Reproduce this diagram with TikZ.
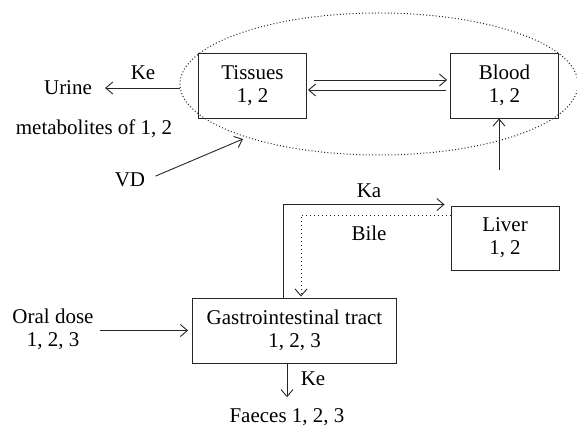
\documentclass[tikz,border=0pt]{standalone}
\usepackage{fontspec}
\setmainfont{Liberation Serif}
\usetikzlibrary{shapes.geometric,arrows.meta,calc}
\begin{document}
\begin{tikzpicture}[x=1pt,y=-1pt,
  box/.style={draw=black!85,line width=0.9pt,minimum width=108pt,minimum height=65pt,align=center,font=\fontsize{21}{23}\selectfont,inner sep=0pt},
  lbl/.style={font=\fontsize{21}{23}\selectfont,align=center,inner sep=1pt},
  arr/.style={draw=black!85,line width=0.9pt,-{Straight Barb[length=7pt,width=12pt,line width=0.9pt]}},
  bileline/.style={draw=black!85,line width=1pt,dash pattern=on 1pt off 3pt}]
\useasboundingbox (0,0) rectangle (577,430);
% compartment ellipse
\node[draw=black!85,ellipse,line width=1pt,dash pattern=on 1pt off 2.2pt,minimum width=398pt,minimum height=142pt,inner sep=0pt] (comp) at (379,84) {};
% boxes
\node[box] (tis) at (252.5,85.5) {Tissues\\1, 2};
\node[box] (blo) at (504.5,85.5) {Blood\\1, 2};
\node[box,minimum height=64pt] (liv) at (505,238) {Liver\\1, 2};
\node[box,minimum width=204pt] (git) at (294.5,330.5) {Gastrointestinal tract\\1, 2, 3};
% labels
\node[lbl] (uri) at (68,88) {Urine};
\node[lbl] (ke1) at (143,73) {Ke};
\node[lbl] (met) at (94,129) {metabolites of 1, 2};
\node[lbl] (vd) at (130,180) {VD};
\node[lbl] (ka) at (369,191) {Ka};
\node[lbl] (bil) at (369,233) {Bile};
\node[lbl] (ora) at (53,329) {Oral dose\\1, 2, 3};
\node[lbl] (ke2) at (313,379) {Ke};
\node[lbl] (fae) at (287,417) {Faeces 1, 2, 3};
% free ends
\coordinate (vdend) at (243,139);
\coordinate (bst) at (499,170);
% connectors
\draw[arr] ($(tis.east)+(7,-5.5)$) -- ($(blo.west)+(-3,-5.5)$);
\draw[arr] ($(blo.west)+(-4,4.5)$) -- ($(tis.east)+(1,4.5)$);
\draw[arr,shorten >=12pt] (uri.east -| comp.west) -- (uri.east);
\draw[arr,shorten <=10pt] (vd.east) -- (vdend);
\draw[arr] (bst) -- (bst |- blo.south);
\draw[arr] ($(git.north)+(-11.5,0)$) |- ($(liv.north west)+(-6,-1)$);
\draw[bileline,-{Straight Barb[length=7pt,width=12pt,line width=0.9pt]}] ($(liv.west)+(0,-23)$) -| ($(git.north)+(6.5,-1)$);
\draw[arr] ($(ora.east)+(5,1.5)$) -- ($(ora.east -| git.west)+(-4,1.5)$);
\draw[arr,shorten >=10pt] ($(git.south)+(-7.5,0)$) -- (fae.north -| 287,0);
\end{tikzpicture}
\end{document}
